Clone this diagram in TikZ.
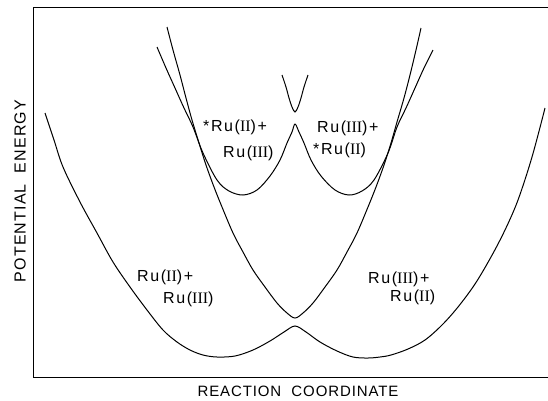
\documentclass[tikz,border=0pt]{standalone}
\usepackage{fontspec}
\setmainfont{Liberation Sans}
\newfontfamily\numfont{Liberation Serif}
\usetikzlibrary{positioning}
\newcommand{\rii}{{\numfont II}}
\newcommand{\riii}{{\numfont III}}
\tikzset{
  curve/.style={line width=1pt, smooth, tension=0.55},
  frame/.style={line width=0.8pt},
  lbl/.style={anchor=base west, inner sep=0pt, font=\fontsize{16}{18}\selectfont\addfontfeature{LetterSpace=10}},
  axislbl/.style={inner sep=0pt, font=\fontsize{15}{18}\selectfont\addfontfeature{LetterSpace=6}},
}

\begin{document}
\begin{tikzpicture}[x=1pt, y=-1pt]
\useasboundingbox (0,0) rectangle (548,400);
% frame, open on the right
\draw[frame] (548,7) -- (33,7) -- (33,377) -- (548,377);
\node[axislbl, rotate=90, font=\fontsize{16}{18}\selectfont\addfontfeature{LetterSpace=7}] (yaxis) at (20,191) {POTENTIAL\ \ ENERGY};
\node[axislbl] (xaxis) at (298,391) {REACTION\ \ COORDINATE};

% ground state, lower surface
\draw[curve] plot coordinates {(45,113) (54,140) (63,167) (80,202) (97,233) (113,262) (130,287) (147,310)
  (163,330) (177,342) (190,350) (203,355) (217,357) (235,356) (253,350) (270,341) (284,332) (295,326)
  (306,332) (320,342) (337,351) (353,357) (368,358) (380,357) (391,355) (408,349) (425,340) (442,325)
  (458,307) (475,284) (491,257) (505,230) (518,200) (532,157) (545,108)};
% ground state, upper surface
\draw[curve] plot coordinates {(167,27) (173,50) (180,75) (186,98) (192,120) (199,143) (206,165) (214,187)
  (222,207) (233,233) (243,252) (253,270) (265,287) (277,303) (287,313) (295,318)
  (303,313) (313,303) (325,287) (337,270) (347,252) (357,233) (368,207) (376,187) (384,165)
  (391,143) (397,122) (404,98) (410,75) (416,50) (421,28)};
% excited state, lower surface
\draw[curve] plot coordinates {(157,47) (166,68) (175,88) (184,108) (193,127) (203,153) (217,180) (229,191)
  (243,195) (257,190) (270,176) (280,160) (287,143) (292,132) (295,124)
  (299,132) (304,143) (311,160) (321,176) (335,190) (349,195) (362,191) (374,180) (388,153)
  (397,127) (406,108) (415,88) (424,68) (433,50)};
% excited state, upper surface
\draw[curve] plot coordinates {(282,75) (286,87) (289,98) (292,107) (295,112) (298,107) (301,98) (304,87) (308,75)};

% labels
\node[lbl] (exL1) at (203,131) {*Ru(\rii)+};
\node[lbl] (exL2) at (223,157) {Ru(\riii)};
\node[lbl] (exR1) at (317,132) {Ru(\riii)+};
\node[lbl] (exR2) at (313,154) {*Ru(\rii)};
\node[lbl] (gsL1) at (137,281) {Ru(\rii)+};
\node[lbl] (gsL2) at (163,303) {Ru(\riii)};
\node[lbl] (gsR1) at (368,283) {Ru(\riii)+};
\node[lbl] (gsR2) at (390,301) {Ru(\rii)};
\end{tikzpicture}
\end{document}
